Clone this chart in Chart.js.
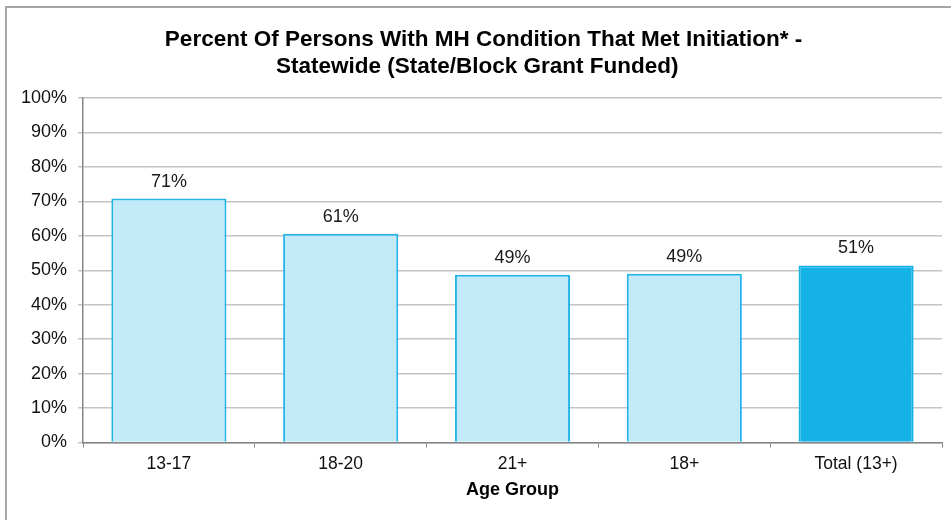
<!DOCTYPE html>
<html>
<head>
<meta charset="utf-8">
<script src="https://cdn.jsdelivr.net/npm/chart.js@4"></script>
<style>
  html, body { margin: 0; padding: 0; background: #fff; }
  #wrap { position: relative; width: 951px; height: 520px; overflow: hidden; }
  #frame { position: absolute; left: 5px; top: 6px; width: 1000px; height: 600px; border: 2px solid #a6a6a6; box-sizing: border-box; pointer-events: none; }
  canvas { position: absolute; left: 0; top: 0; }
</style>
</head>
<body>
<div id="wrap">
  <canvas id="c" width="951" height="520"></canvas>
  <div id="frame"></div>
</div>
<script>
const categories = ['13-17', '18-20', '21+', '18+', 'Total (13+)'];
const percentValues = [70.8, 60.6, 48.7, 49.0, 51.4];
const valueLabels = ['71%', '61%', '49%', '49%', '51%'];
const yTickValues = [0, 10, 20, 30, 40, 50, 60, 70, 80, 90, 100];
const titleLines = ['    Percent Of Persons With MH Condition That Met Initiation* -', '  Statewide (State/Block Grant Funded)'];
const xAxisTitle = 'Age Group';

const FONT = 'Liberation Sans, Arial, sans-serif';

const fills = categories.map((c, i) => i === categories.length - 1 ? '#14b2e7' : '#c3eaf9');
const borders = categories.map((c, i) => i === categories.length - 1 ? '#14b2e7' : '#22b4e9');

const valueLabelPlugin = {
  id: 'valueLabels',
  afterDatasetsDraw(chart) {
    const ctx = chart.ctx;
    const meta = chart.getDatasetMeta(0);
    ctx.save();
    ctx.font = '18px ' + FONT;
    ctx.fillStyle = '#1a1a1a';
    ctx.textAlign = 'center';
    ctx.textBaseline = 'alphabetic';
    meta.data.forEach((bar, i) => {
      ctx.fillText(valueLabels[i], bar.x, bar.y - 12);
    });
    ctx.restore();
  }
};

new Chart(document.getElementById('c'), {
  type: 'bar',
  data: {
    labels: categories,
    datasets: [{
      data: percentValues,
      backgroundColor: fills,
      borderColor: borders,
      borderWidth: 2,
      categoryPercentage: 1,
      barPercentage: 0.67
    }]
  },
  options: {
    responsive: false,
    animation: false,
    devicePixelRatio: 1,
    layout: { padding: { left: 0, right: 9, top: 0, bottom: 0 } },
    plugins: {
      legend: { display: false },
      tooltip: { enabled: false },
      title: {
        display: true,
        text: titleLines,
        color: '#000',
        font: { family: FONT, size: 22.5, weight: 'bold', lineHeight: 1.2 },
        padding: { top: 26, bottom: 18 }
      }
    },
    scales: {
      x: {
        grid: { display: true, drawOnChartArea: false, drawTicks: true, tickLength: 5, color: '#868686', offset: true },
        border: { display: true, color: '#868686', width: 1.5 },
        ticks: { color: '#111', font: { family: FONT, size: 17.5 }, padding: 6, maxRotation: 0 },
        title: {
          display: true,
          text: xAxisTitle,
          color: '#000',
          font: { family: FONT, size: 18, weight: 'bold' },
          padding: { top: 4, bottom: 19 }
        },
        afterFit(scale) { scale.height = 77.5; }
      },
      y: {
        min: 0,
        max: 100,
        afterBuildTicks(scale) { scale.ticks = yTickValues.map(v => ({ value: v })); },
        grid: { color: '#c4c4c4', lineWidth: 1.5, tickLength: 5, drawTicks: true },
        border: { display: true, color: '#868686', width: 1.5 },
        ticks: {
          color: '#111',
          font: { family: FONT, size: 18 },
          padding: 11,
          callback: v => v + '%'
        },
        afterFit(scale) { scale.width = 83; }
      }
    }
  },
  plugins: [valueLabelPlugin]
});
</script>
</body>
</html>
